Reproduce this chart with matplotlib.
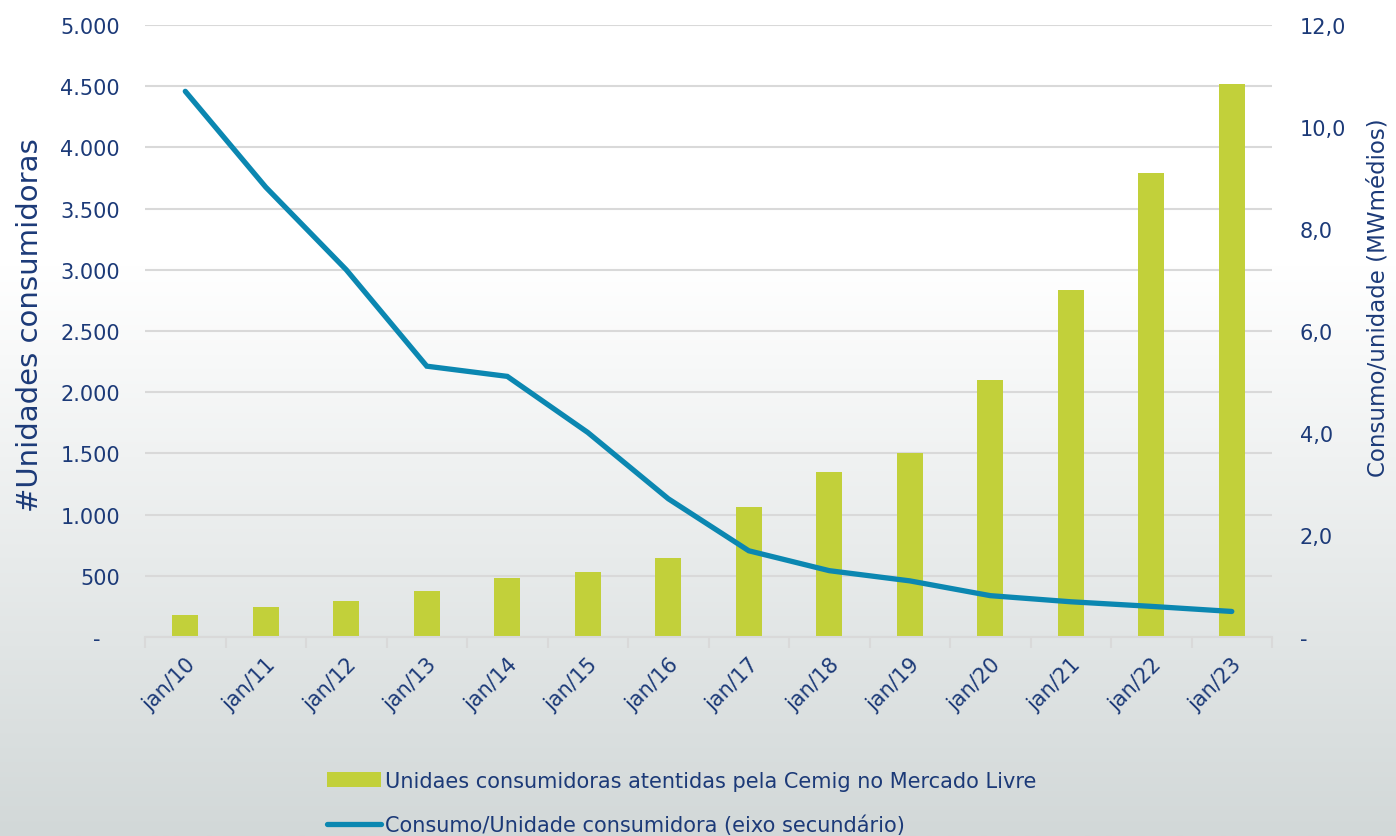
import numpy as np
import matplotlib
matplotlib.use('Agg')
import matplotlib.pyplot as plt
from matplotlib.ticker import FuncFormatter

plt.rcParams['font.family'] = ['DejaVu Sans']

labels = ['jan/10', 'jan/11', 'jan/12', 'jan/13', 'jan/14', 'jan/15', 'jan/16',
          'jan/17', 'jan/18', 'jan/19', 'jan/20', 'jan/21', 'jan/22', 'jan/23']
unidades = [182, 247, 292, 375, 482, 527, 647, 1058, 1350, 1500, 2100, 2837, 3788, 4518]
consumo = [10.70, 8.82, 7.20, 5.31, 5.11, 4.01, 2.71, 1.69, 1.30, 1.10, 0.81, 0.69, 0.60, 0.50]

navy = '#1c3a78'
verde = '#c2d03a'
azul = '#0b87b1'
grade = '#d9d9d9'

fig = plt.figure(figsize=(13.96, 8.37), dpi=100)

# fundo em degrade (branco em cima, cinza esverdeado em baixo)
bg = fig.add_axes([0, 0, 1, 1], zorder=-10)
t = np.linspace(0, 1, 400)
r = np.clip((t - 0.32) / 0.68, 0, 1)
top = np.array([1.0, 1.0, 1.0])
bot = np.array([0xd2, 0xd8, 0xd8]) / 255
grad = top[None, :] * (1 - r[:, None]) + bot[None, :] * r[:, None]
bg.imshow(grad[:, None, :], aspect='auto', extent=[0, 1, 1, 0])
bg.axis('off')

ax = fig.add_axes([0.1039, 0.2378, 0.8073, 0.7311])
ax.patch.set_alpha(0)
x = np.arange(len(labels))
ax.bar(x, unidades, width=0.32, color=verde, zorder=2,
       label='Unidaes consumidoras atentidas pela Cemig no Mercado Livre')
ax.set_xlim(-0.5, len(labels) - 0.5)
ax.set_ylim(0, 5000)
ax.set_yticks(np.arange(0, 5001, 500))
ax.yaxis.set_major_formatter(FuncFormatter(
    lambda v, p: '-   ' if v == 0 else f'{int(v):,}'.replace(',', '.')))
ax.grid(axis='y', color=grade, linewidth=1.5, zorder=0)
ax.set_axisbelow(True)
for s in ['top', 'right', 'left']:
    ax.spines[s].set_visible(False)
ax.spines['bottom'].set_color(grade)
ax.spines['bottom'].set_linewidth(1.5)
ax.tick_params(axis='y', length=0, pad=18, labelsize=15, labelcolor=navy)
ax.set_xticks(np.arange(-0.5, len(labels), 1), minor=False)
ax.set_xticklabels([])
ax.tick_params(axis='x', which='major', length=8, width=1.5, color=grade, direction='out')
ax.set_xticks(x, minor=True)
ax.set_xticklabels(labels, minor=True, rotation=45, ha='right', va='top',
                   rotation_mode='anchor', fontsize=15, color=navy)
ax.tick_params(axis='x', which='minor', length=0, pad=12)
ax.set_ylabel('#Unidades consumidoras', fontsize=21, color=navy, va='center')
ax.yaxis.set_label_coords(-0.102, 0.511)

ax2 = ax.twinx()
ax2.plot(x, consumo, color=azul, linewidth=3.8, solid_capstyle='round',
         solid_joinstyle='miter', zorder=3,
         label='Consumo/Unidade consumidora (eixo secundário)')
ax2.set_ylim(0, 12)
ax2.set_yticks(np.arange(0, 12.1, 2))
ax2.yaxis.set_major_formatter(FuncFormatter(
    lambda v, p: '-' if v == 0 else f'{v:.1f}'.replace('.', ',')))
for s in ax2.spines.values():
    s.set_visible(False)
ax2.tick_params(axis='y', length=0, pad=20, labelsize=15, labelcolor=navy)
ax2.set_ylabel('Consumo/unidade (MWmédios)', fontsize=16.5, color=navy, va='center')
ax2.yaxis.set_label_coords(1.094, 0.556)

h1, l1 = ax.get_legend_handles_labels()
h2, l2 = ax2.get_legend_handles_labels()
fig.legend(h1 + h2, l1 + l2, loc='upper left', bbox_to_anchor=(0.228, 0.088),
           frameon=False, fontsize=15, labelcolor=navy, handlelength=2.6,
           handletextpad=0.2, labelspacing=1.15, borderaxespad=0)

fig.savefig('out.png', dpi=100)
